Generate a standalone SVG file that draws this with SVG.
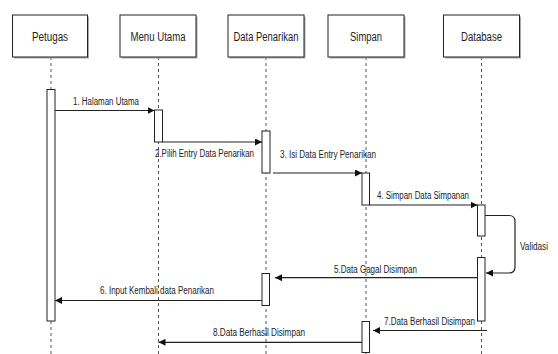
<svg xmlns="http://www.w3.org/2000/svg" width="558" height="354" viewBox="0 0 558 354">
<defs>
<marker id="ah" markerWidth="7" markerHeight="7" refX="7" refY="3.5" orient="auto" markerUnits="userSpaceOnUse">
<path d="M0,0 L7,3.5 L0,7 z" fill="#111"/>
</marker>
<style>
.box{fill:#fff;stroke:#222;stroke-width:1}
.shadow{fill:#aaa}
.life{stroke:#555;stroke-width:1;stroke-dasharray:3 3;fill:none}
.act{fill:#fff;stroke:#222;stroke-width:1}
.msg{stroke:#222;stroke-width:1.2;fill:none;marker-end:url(#ah)}
.t{font-family:"Liberation Sans Narrow","Liberation Sans",Arial,sans-serif;fill:#222;lengthAdjust:spacingAndGlyphs}
.h{font-size:12px;text-anchor:middle}
.l{font-size:10px}
</style>
</defs>
<rect width="558" height="354" fill="#fff"/>

<g id="lifelines">
<line class="life" x1="51" y1="57" x2="51" y2="354"/>
<line class="life" x1="158.5" y1="57" x2="158.5" y2="354"/>
<line class="life" x1="266" y1="57" x2="266" y2="354"/>
<line class="life" x1="366" y1="57" x2="366" y2="354"/>
<line class="life" x1="481.5" y1="57" x2="481.5" y2="354"/>
</g>

<g id="petugas">
<rect class="shadow" x="14" y="16.5" width="75" height="42"/>
<rect class="box" x="12.5" y="15" width="75" height="42"/>
<text class="t h" x="50" y="41" textLength="36" lengthAdjust="spacingAndGlyphs">Petugas</text>
</g>
<g id="menu-utama">
<rect class="shadow" x="121.5" y="16.5" width="76" height="42"/>
<rect class="box" x="120" y="15" width="76" height="42"/>
<text class="t h" x="158" y="41" textLength="55" lengthAdjust="spacingAndGlyphs">Menu Utama</text>
</g>
<g id="data-penarikan">
<rect class="shadow" x="229.5" y="16.5" width="76" height="42"/>
<rect class="box" x="228" y="15" width="76" height="42"/>
<text class="t h" x="266" y="41" textLength="65" lengthAdjust="spacingAndGlyphs">Data Penarikan</text>
</g>
<g id="simpan">
<rect class="shadow" x="329.5" y="16.5" width="76" height="42"/>
<rect class="box" x="328" y="15" width="76" height="42"/>
<text class="t h" x="366" y="41" textLength="32" lengthAdjust="spacingAndGlyphs">Simpan</text>
</g>
<g id="database">
<rect class="shadow" x="445" y="16.5" width="76" height="42"/>
<rect class="box" x="443.5" y="15" width="76" height="42"/>
<text class="t h" x="481.5" y="41" textLength="41" lengthAdjust="spacingAndGlyphs">Database</text>
</g>

<g id="activations">
<rect class="act" x="47" y="89.5" width="8" height="231.5"/>
<rect class="act" x="154.5" y="110" width="8" height="32"/>
<rect class="act" x="262" y="131" width="8" height="42"/>
<rect class="act" x="362" y="173" width="7.5" height="32"/>
<rect class="act" x="477.5" y="205" width="7.5" height="31"/>
<rect class="act" x="477.5" y="257.5" width="7.5" height="63.5"/>
<rect class="act" x="262" y="273.5" width="7.5" height="32"/>
<rect class="act" x="362" y="321.5" width="7.5" height="31"/>
</g>

<g id="connectors">
<line class="msg" x1="55" y1="110.5" x2="154.5" y2="110.5"/>
<line class="msg" x1="162.5" y1="142" x2="262" y2="142"/>
<line class="msg" x1="273" y1="173" x2="362" y2="173"/>
<line class="msg" x1="369.5" y1="205" x2="477.5" y2="205"/>
<path class="msg" d="M485,215.5 H509 Q515,215.5 515,221.5 V267 Q515,273 509,273 H486"/>
<line class="msg" x1="477.5" y1="277.7" x2="275" y2="277.7"/>
<line class="msg" x1="262" y1="300.5" x2="55" y2="300.5"/>
<line class="msg" x1="487" y1="330.5" x2="373" y2="330.5"/>
<line class="msg" x1="362" y1="342.3" x2="158.5" y2="342.3"/>
</g>

<g id="labels">
<text class="t l" x="73" y="104.5" textLength="66" lengthAdjust="spacingAndGlyphs">1. Halaman Utama</text>
<text class="t l" x="155" y="156.5" textLength="99" lengthAdjust="spacingAndGlyphs">2.Pilih Entry Data Penarikan</text>
<text class="t l" x="280" y="157.5" textLength="96" lengthAdjust="spacingAndGlyphs">3. Isi Data Entry Penarikan</text>
<text class="t l" x="377" y="198.5" textLength="92" lengthAdjust="spacingAndGlyphs">4. Simpan Data Simpanan</text>
<text class="t l" x="520" y="250" textLength="28" lengthAdjust="spacingAndGlyphs">Validasi</text>
<text class="t l" x="334" y="272.5" textLength="83" lengthAdjust="spacingAndGlyphs">5.Data Gagal Disimpan</text>
<text class="t l" x="100" y="294" textLength="114" lengthAdjust="spacingAndGlyphs">6. Input Kembali data Penarikan</text>
<text class="t l" x="384" y="325" textLength="91" lengthAdjust="spacingAndGlyphs">7.Data Berhasil Disimpan</text>
<text class="t l" x="213" y="336" textLength="92" lengthAdjust="spacingAndGlyphs">8.Data Berhasil Disimpan</text>
</g>
</svg>
